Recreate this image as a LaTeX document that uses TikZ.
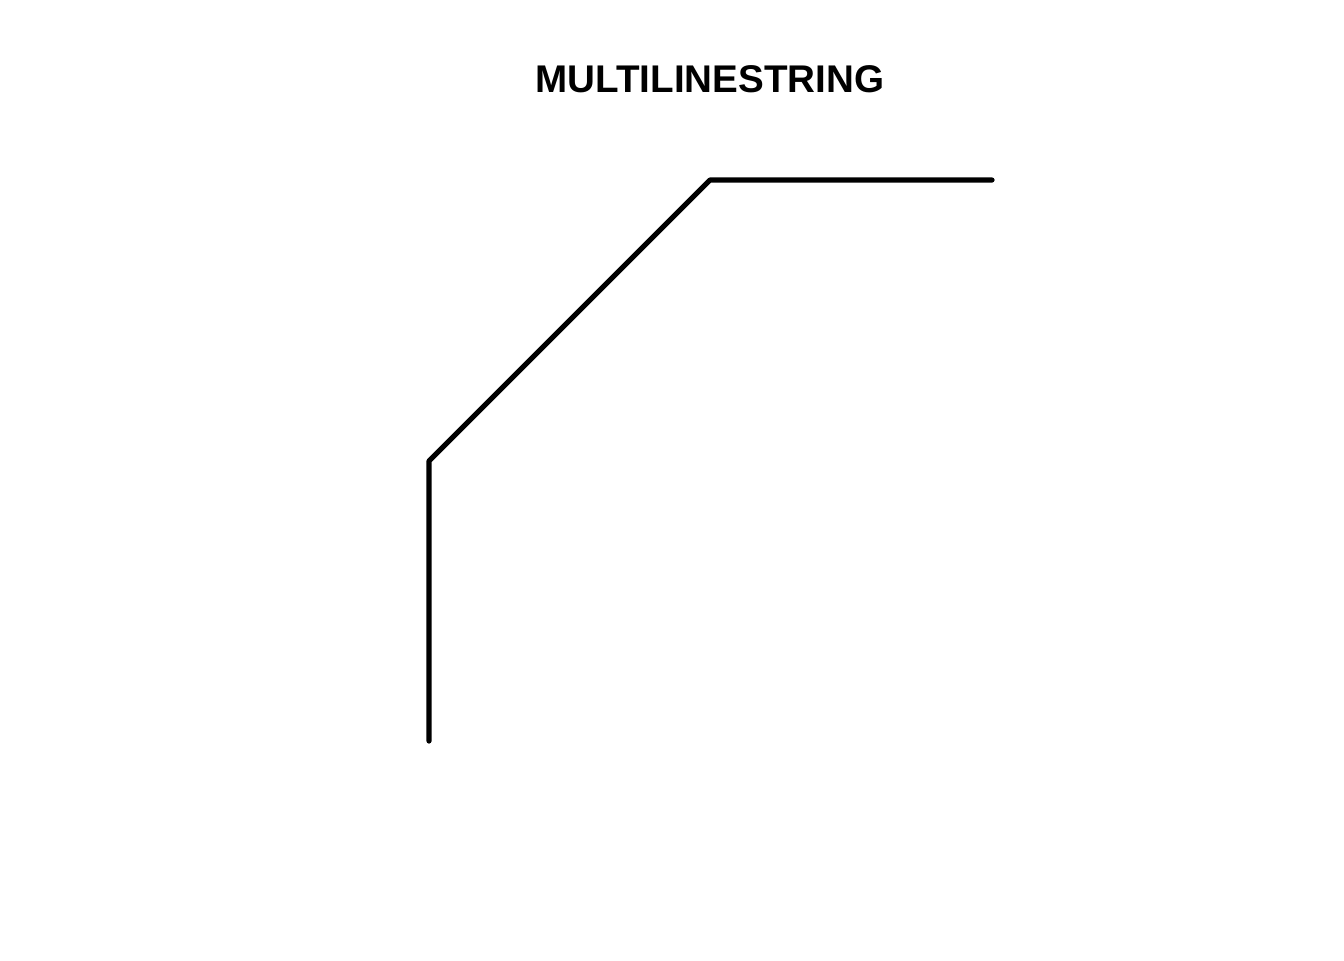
\documentclass[tikz,border=0pt]{standalone}
\usepackage{fontspec}
\setmainfont{Liberation Sans}
\begin{document}
\begin{tikzpicture}[x=0.5pt,y=-0.5pt,
  geom/.style={line width=2.6pt,line cap=round,line join=round,black},
  ttl/.style={font=\fontsize{19.3}{22}\selectfont\bfseries,inner sep=0pt}]
\useasboundingbox (0,0) rectangle (1344,960);
\node[ttl] (title) at (710,79) {MULTILINESTRING};
\coordinate (p1) at (429,741);
\coordinate (p2) at (429,461);
\coordinate (p3) at (710,180);
\coordinate (p4) at (992,180);
\draw[geom] (p1) -- (p2) -- (p3) -- (p4);
\end{tikzpicture}
\end{document}
